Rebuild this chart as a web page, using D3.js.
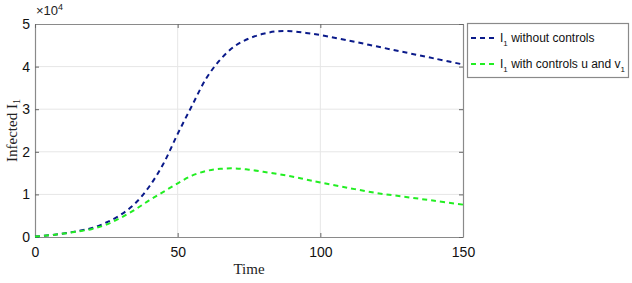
<!DOCTYPE html>
<html>
<head>
<meta charset="utf-8">
<script src="https://cdn.jsdelivr.net/npm/d3@7"></script>
<style>
  body { margin: 0; background: #fff; }
  svg { display: block; }
</style>
</head>
<body>
<div id="chart"></div>
<script>
const width = 632, height = 283;

// time points (x)
const times = [0, 5, 10, 15, 20, 25, 30, 35, 40, 45, 50, 55, 60, 65, 70, 75, 80, 85, 90, 95, 100, 110, 120, 130, 140, 150];
// I1 without controls (x 10^4)
const noControl = [0.01, 0.04, 0.08, 0.14, 0.21, 0.34, 0.52, 0.78, 1.18, 1.72, 2.42, 3.08, 3.72, 4.17, 4.48, 4.66, 4.77, 4.83, 4.83, 4.79, 4.74, 4.61, 4.47, 4.33, 4.19, 4.05];
// I1 with controls u and v1 (x 10^4)
const withControl = [0.01, 0.04, 0.08, 0.13, 0.19, 0.29, 0.45, 0.64, 0.86, 1.06, 1.26, 1.44, 1.55, 1.6, 1.61, 1.58, 1.53, 1.48, 1.42, 1.35, 1.28, 1.15, 1.03, 0.94, 0.85, 0.76];

const xTicks = [0, 50, 100, 150];
const yTicks = [0, 1, 2, 3, 4, 5];

const margin = { top: 24, right: 169, bottom: 46, left: 35 };

const svg = d3.select("#chart").append("svg")
    .attr("width", width)
    .attr("height", height);

const x = d3.scaleLinear().domain([0, 150]).range([margin.left, width - margin.right]);
const y = d3.scaleLinear().domain([0, 5]).range([height - margin.bottom, margin.top]);

const axisColor = "#8a8a8a";
const sans = "'Liberation Sans', Arial, sans-serif";
const serif = "'Liberation Serif', 'Times New Roman', serif";

// grid
svg.append("g").selectAll("line")
    .data(xTicks.slice(1, -1))
    .enter().append("line")
    .attr("x1", d => x(d)).attr("x2", d => x(d))
    .attr("y1", y(0)).attr("y2", y(5))
    .attr("stroke", "#e6e6e6").attr("stroke-width", 1);

svg.append("g").selectAll("line")
    .data(yTicks.slice(1, -1))
    .enter().append("line")
    .attr("x1", x(0)).attr("x2", x(150))
    .attr("y1", d => y(d)).attr("y2", d => y(d))
    .attr("stroke", "#e6e6e6").attr("stroke-width", 1);

// axes (ticks inside)
const xAxis = d3.axisBottom(x).tickValues(xTicks).tickSizeInner(-4).tickSizeOuter(0).tickPadding(10).tickFormat(d3.format("d"));
const yAxis = d3.axisLeft(y).tickValues(yTicks).tickSizeInner(-4).tickSizeOuter(0).tickPadding(5).tickFormat(d3.format("d"));

const gx = svg.append("g").attr("transform", `translate(0,${y(0)})`).call(xAxis);
const gy = svg.append("g").attr("transform", `translate(${x(0)},0)`).call(yAxis);
const gxTop = svg.append("g").attr("transform", `translate(0,${y(5)})`)
    .call(d3.axisTop(x).tickValues(xTicks).tickSizeInner(-4).tickSizeOuter(0).tickFormat(""));
const gyRight = svg.append("g").attr("transform", `translate(${x(150)},0)`)
    .call(d3.axisRight(y).tickValues(yTicks).tickSizeInner(-4).tickSizeOuter(0).tickFormat(""));

[gx, gy, gxTop, gyRight].forEach(g => {
    g.select(".domain").attr("stroke", axisColor).attr("stroke-width", 1.2);
    g.selectAll(".tick line").attr("stroke", "#666");
    g.selectAll(".tick text")
        .attr("fill", "#111")
        .style("font-family", sans)
        .style("font-size", "14px");
});

// exponent label
const expo = svg.append("text")
    .attr("x", x(0) + 1)
    .attr("y", 15)
    .style("font-family", sans)
    .style("font-size", "13px")
    .attr("fill", "#222");
expo.append("tspan").text("\u00d710");
expo.append("tspan").attr("dy", -5).style("font-size", "9px").text("4");

// lines
const line = d3.line()
    .x((d, i) => x(times[i]))
    .y(d => y(d))
    .curve(d3.curveCatmullRom);

svg.append("path")
    .datum(noControl)
    .attr("d", line)
    .attr("fill", "none")
    .attr("stroke", "#0a1a8a")
    .attr("stroke-width", 2)
    .attr("stroke-dasharray", "5,4");

svg.append("path")
    .datum(withControl)
    .attr("d", line)
    .attr("fill", "none")
    .attr("stroke", "#22ee22")
    .attr("stroke-width", 2)
    .attr("stroke-dasharray", "5,4");

// axis labels
svg.append("text")
    .attr("x", (x(0) + x(150)) / 2)
    .attr("y", 274)
    .attr("text-anchor", "middle")
    .style("font-family", serif)
    .style("font-size", "15px")
    .attr("fill", "#222")
    .text("Time");

const yl = svg.append("text")
    .attr("transform", `translate(17,${(y(0) + y(5)) / 2}) rotate(-90)`)
    .attr("text-anchor", "middle")
    .style("font-family", serif)
    .style("font-size", "15px")
    .attr("fill", "#222");
yl.append("tspan").text("Infected I");
yl.append("tspan").attr("dy", 3).style("font-size", "10px").text("1");

// legend
const legend = svg.append("g");
legend.append("rect")
    .attr("x", 467.5).attr("y", 23.5)
    .attr("width", 161).attr("height", 54)
    .attr("fill", "#fff")
    .attr("stroke", axisColor)
    .attr("stroke-width", 1.2);

const legendItems = [
    { color: "#0a1a8a", label: " without controls", sub2: null },
    { color: "#22ee22", label: " with controls u and v", sub2: "1" }
];

legendItems.forEach((item, i) => {
    const ly = 38 + i * 26;
    legend.append("line")
        .attr("x1", 471).attr("x2", 497)
        .attr("y1", ly).attr("y2", ly)
        .attr("stroke", item.color)
        .attr("stroke-width", 2)
        .attr("stroke-dasharray", "5,4");
    const t = legend.append("text")
        .attr("x", 500)
        .attr("y", ly + 4)
        .style("font-family", sans)
        .style("font-size", "12px")
        .attr("fill", "#111");
    t.append("tspan").text("I");
    t.append("tspan").attr("dy", 4).style("font-size", "8px").text("1");
    t.append("tspan").attr("dy", -4).text(item.label);
    if (item.sub2) t.append("tspan").attr("dy", 4).style("font-size", "8px").text(item.sub2);
});
</script>
</body>
</html>
